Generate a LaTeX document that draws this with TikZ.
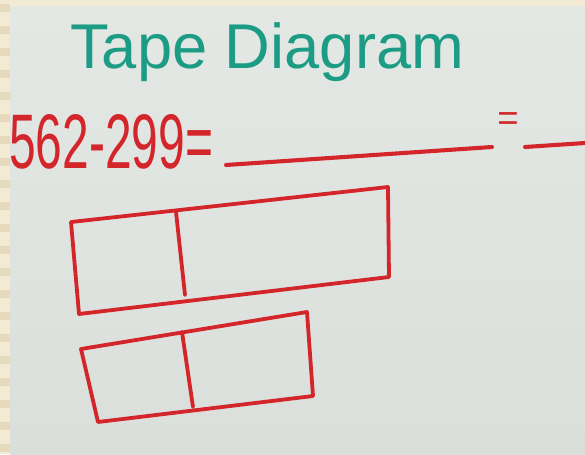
\documentclass[tikz,border=0pt]{standalone}
\usepackage{fontspec}
\setmainfont{Liberation Sans}
\usepackage{graphicx}
\usepackage{xcolor}
\definecolor{boardc}{HTML}{E4E8E5}
\definecolor{shadec}{HTML}{DADFDB}
\definecolor{framec}{HTML}{F3EAD4}
\definecolor{stripec}{HTML}{E6D9BC}
\definecolor{redink}{HTML}{D3252A}
\definecolor{tealink}{HTML}{1C9C84}
\usetikzlibrary{calc}
\tikzset{
  tape/.style={draw=redink,line width=2.7pt,line join=round,line cap=round},
  blank/.style={draw=redink,line width=2.9pt,line cap=round},
  headline/.style={text=tealink,font=\fontsize{45}{50}\selectfont,anchor=base west,inner sep=0pt},
  sumtext/.style={text=redink,font=\fontsize{55}{60}\selectfont,anchor=base west,inner sep=0pt},
}

\begin{document}
\begin{tikzpicture}[x=0.025cm,y=-0.025cm]
  \useasboundingbox (0,0) rectangle (585,454);
  \fill[framec] (0,0) rectangle (585,454);
  \foreach \s in {0,22,...,440}
    \fill[stripec] (0,\s+4) rectangle (10,\s+12);
  \shade[top color=boardc,bottom color=shadec] (10,6) rectangle (585,454);
  % heading and sum
  \node[headline] (title) at (70,68) {Tape Diagram};
  \node[sumtext] (sum) at (9,168) {\scalebox{0.62}[1]{562-299=}};
  \node[text=redink,font=\fontsize{26}{28}\selectfont,inner sep=0pt] (eqtwo) at (508,122) {=};
  % answer blanks
  \coordinate (b1l) at (226,165); \coordinate (b1r) at (492,147);
  \coordinate (b2l) at (525,147); \coordinate (b2r) at (585,143);
  \draw[blank] (b1l) -- (b1r);
  \draw[blank] (b2l) -- (b2r);
  % upper tape
  \coordinate (ta) at (71,222); \coordinate (tb) at (388,187);
  \coordinate (tc) at (389,277); \coordinate (td) at (79,314);
  \coordinate (tm) at (176,212); \coordinate (tn) at (185,295);
  \draw[tape] (ta) -- (tb) -- (tc) -- (td) -- cycle;
  \draw[tape] (tm) -- (tn);
  % lower tape
  \coordinate (la) at (81,349); \coordinate (lb) at (307,312);
  \coordinate (lc) at (313,396); \coordinate (ld) at (98,422);
  \coordinate (lm) at (182,332); \coordinate (ln) at (193,407);
  \draw[tape] (la) -- (lb) -- (lc) -- (ld) -- cycle;
  \draw[tape] (lm) -- (ln);
\end{tikzpicture}
\end{document}
